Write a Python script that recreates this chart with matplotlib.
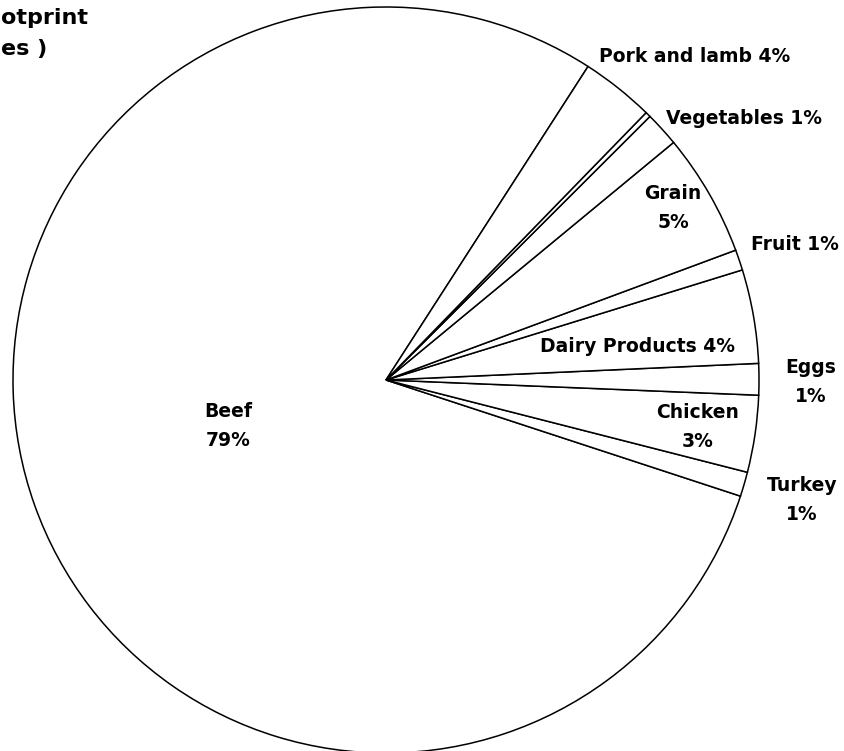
import matplotlib
matplotlib.use("Agg")
import matplotlib.pyplot as plt

# Data (percent of total footprint), in drawing order counter-clockwise from Beef
categories = ["Beef", "Turkey", "Chicken", "Eggs", "Dairy Products", "Fruit",
              "Grain", "Vegetables", "Other", "Pork and lamb"]
values = [79.08, 1.06, 3.33, 1.36, 4.06, 0.89, 5.33, 1.50, 0.23, 3.17]
label_texts = ["Beef\n79%", "Turkey\n1%", "Chicken\n3%", "Eggs\n1%",
               "Dairy Products 4%", "Fruit 1%", "Grain\n5%", "Vegetables 1%",
               "", "Pork and lamb 4%"]
title_parts = ["otprint", "es )"]

W, H = 844, 751
fig = plt.figure(figsize=(W / 100, H / 100), dpi=100)
fig.patch.set_facecolor("white")

cx, cy, r = 386, 380, 373
ax = fig.add_axes([(cx - r) / W, (H - cy - r) / H, 2 * r / W, 2 * r / H])
ax.pie(values, startangle=57.2, counterclock=True, radius=1.0,
       colors=["white"] * len(values),
       wedgeprops=dict(edgecolor="black", linewidth=1.1))
ax.set_xlim(-1, 1)
ax.set_ylim(-1, 1)
ax.set_aspect("equal")
ax.axis("off")

# label positions in pixel coordinates (centre of text)
label_pos = {
    "Beef": (228, 426),
    "Turkey": (802, 500),
    "Chicken": (698, 427),
    "Eggs": (811, 382),
    "Dairy Products": (638, 347),
    "Fruit": (795, 245),
    "Grain": (673, 208),
    "Vegetables": (744, 118),
    "Pork and lamb": (695, 57),
}
font = dict(family="DejaVu Sans", weight="bold", size=13.5, color="black")
for cat, txt in zip(categories, label_texts):
    if not txt:
        continue
    px, py = label_pos[cat]
    fig.text(px / W, (H - py) / H, txt, ha="center", va="center",
             linespacing=1.65, **font)

tfont = dict(family="DejaVu Sans", weight="bold", size=16, color="black")
fig.text(1 / W, (H - 18) / H, title_parts[0], ha="left", va="center", **tfont)
fig.text(1 / W, (H - 49) / H, title_parts[1], ha="left", va="center", **tfont)

fig.savefig("out.png", dpi=100, facecolor="white")
